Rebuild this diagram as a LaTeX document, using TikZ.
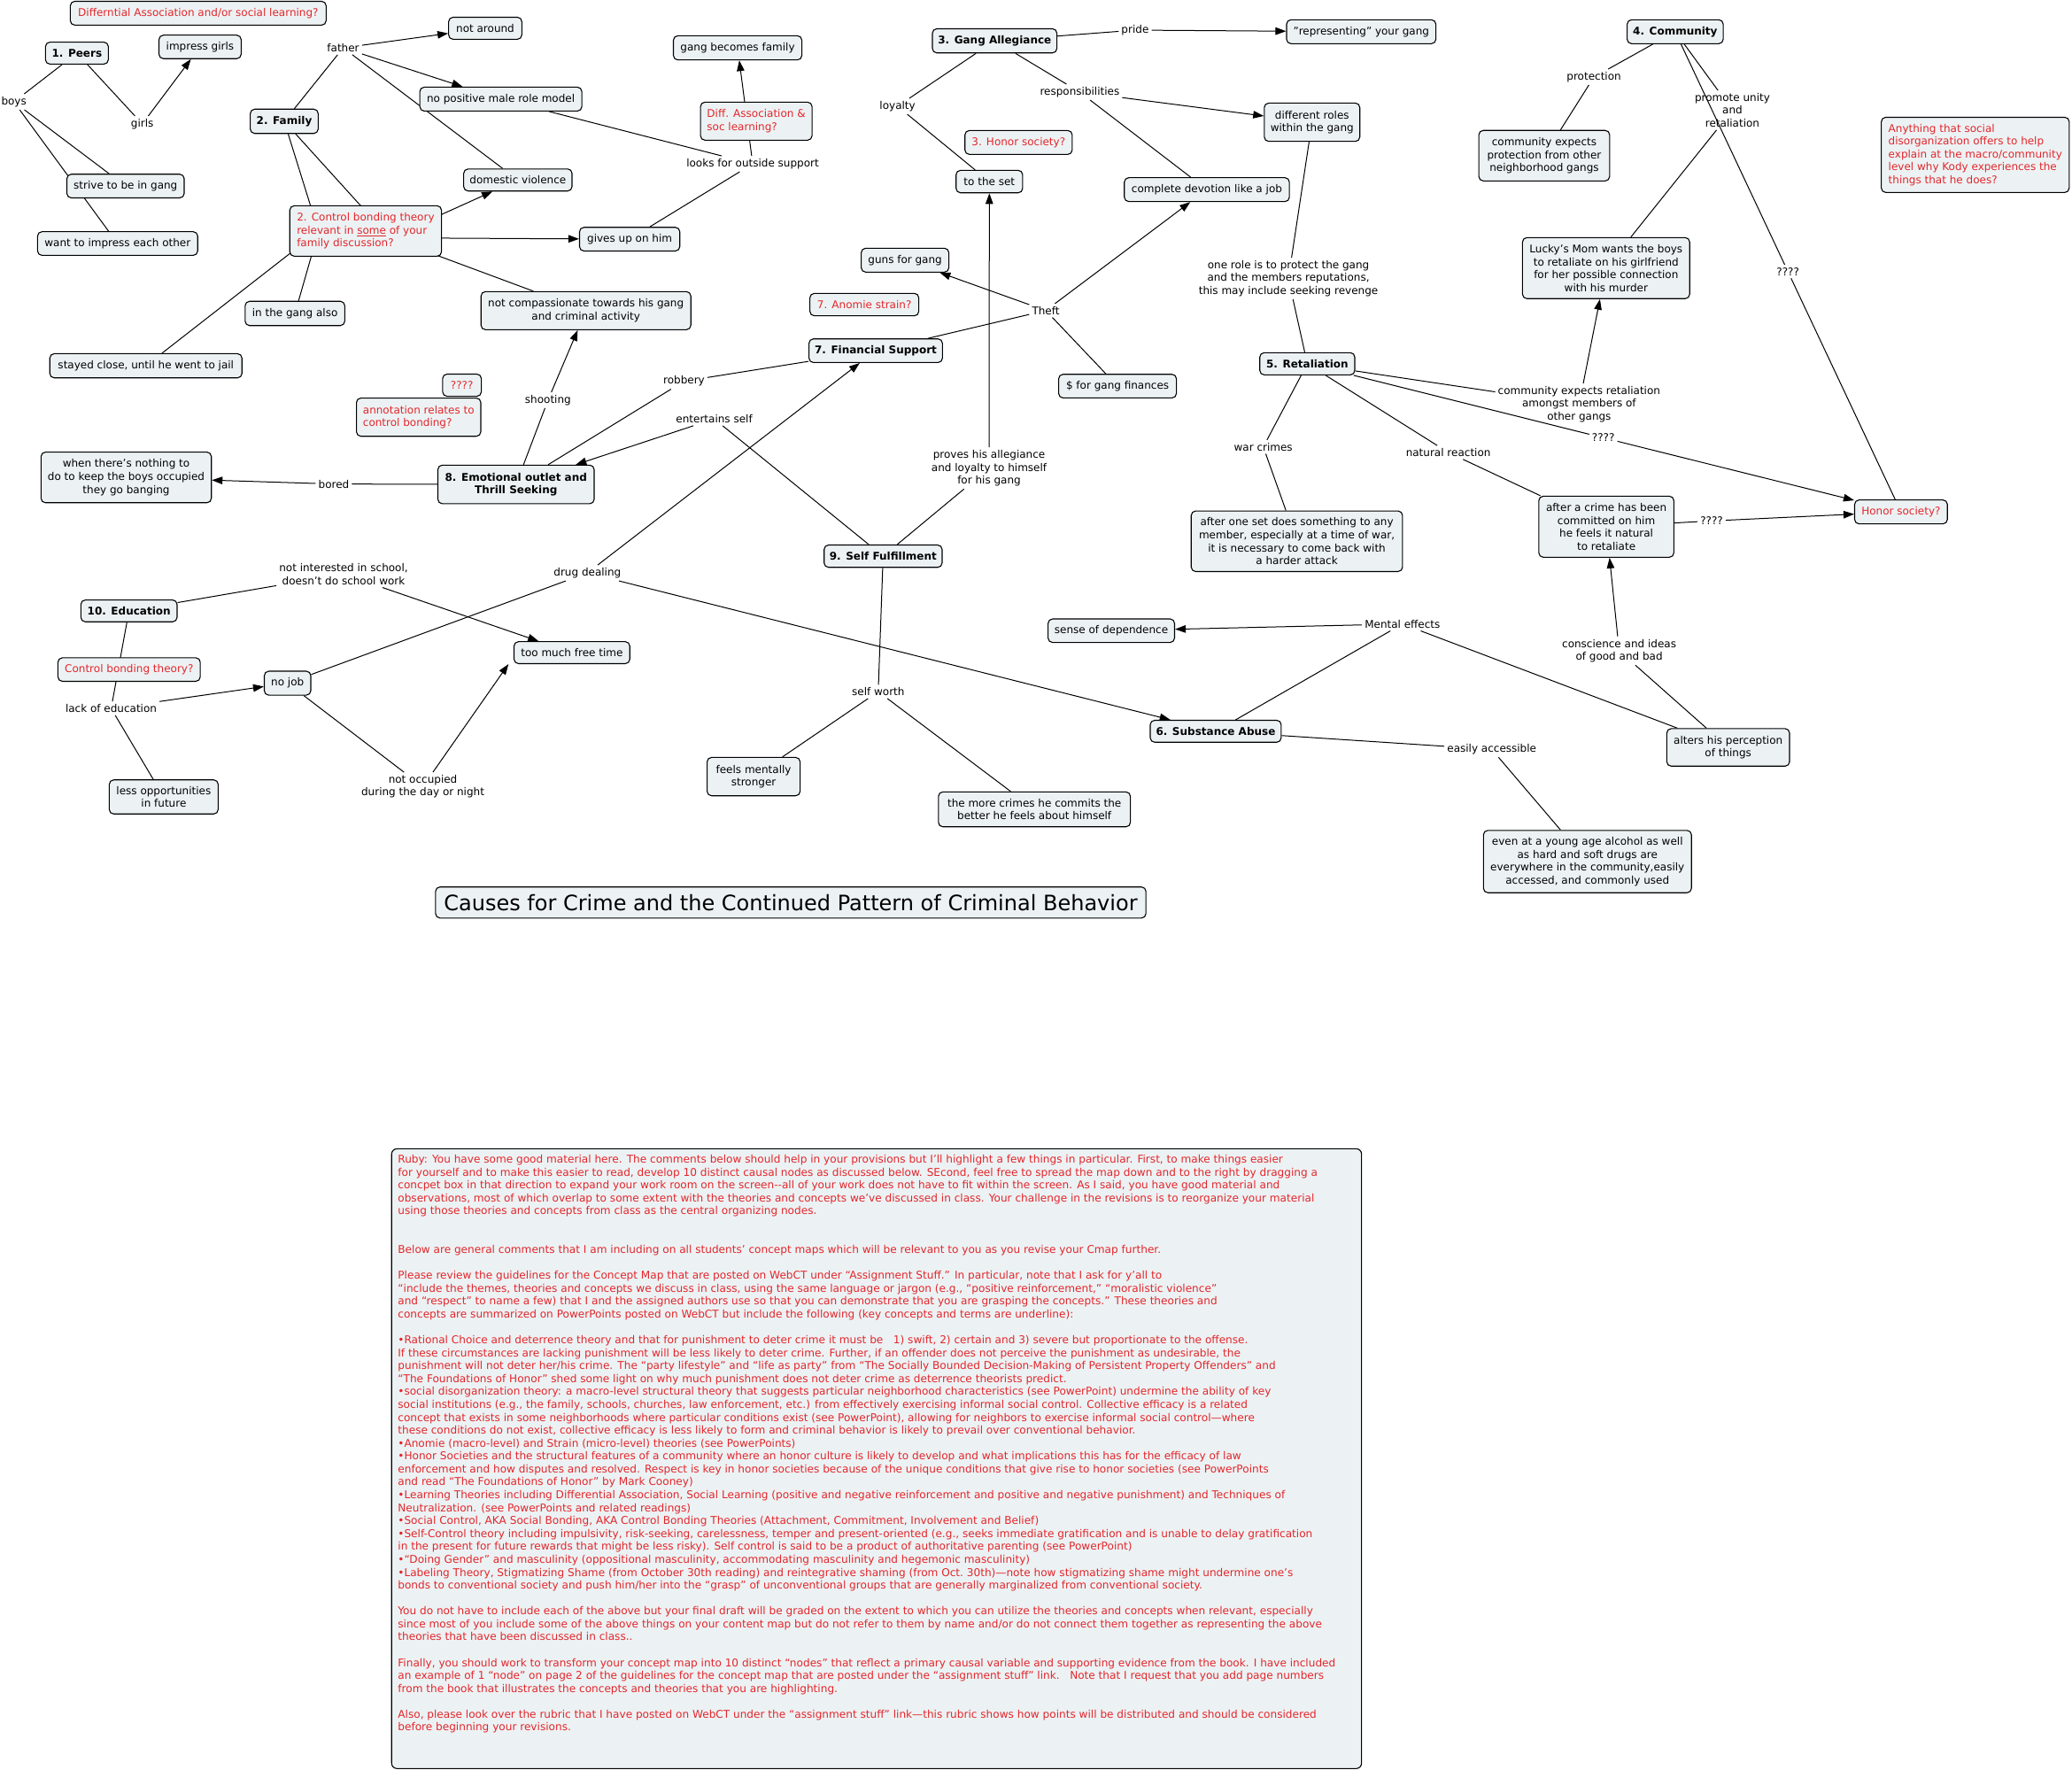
\documentclass[tikz,border=0pt]{standalone}
\usepackage{fontspec}
\setmainfont{DejaVu Sans}
\usetikzlibrary{arrows.meta}
\pgfdeclarelayer{bg}
\pgfsetlayers{bg,main}
\definecolor{boxfill}{HTML}{ECF2F4}
\definecolor{notered}{HTML}{E3262B}
\newcommand\fsn{\fontsize{12pt}{14.55pt}\selectfont}
\newcommand\fsc{\fontsize{12.1pt}{14.58pt}\selectfont}
\newcommand\fst{\fontsize{24pt}{28pt}\selectfont}
\tikzset{
  box/.style={draw=black, line width=1.1pt, fill=boxfill, rounded corners=5pt, align=center, font=\fsn, inner sep=1pt},
  sz/.style 2 args={minimum width=#1*1.4923pt, minimum height=#2*1.4923pt},
  note/.style={text=notered, align=left},
  hd/.style={font=\fsn\bfseries},
  lbl/.style={font=\fsn, align=center, inner sep=3pt},
  con/.style={line width=1pt, draw=black},
  arr/.style={con, -{Triangle[length=12pt,width=8.5pt]}},
}
\begin{document}
\begin{tikzpicture}[x=1.4923pt, y=-1.4923pt]
\useasboundingbox (0,0) rectangle (1568,1339);
\begin{pgfonlayer}{bg}
\fill[white] (0,0) rectangle (1568,1339);
\end{pgfonlayer}

% ---------- concept boxes ----------
\node[box, note, sz={193.6}{18}] (diffassoc) at (150,10) {Differntial Association and/or social learning?};
\node[box, hd, sz={47.6}{16.6}] (peers) at (58.2,40.2) {1. Peers};
\node[box, sz={62.2}{17.8}] (impgirls) at (151.4,35.5) {impress girls};
\node[box, sz={55.4}{16.7}] (notaround) at (367.2,21.4) {not around};
\node[box, sz={122.6}{18.1}] (nopos) at (379,75) {no positive male role model};
\node[box, hd, sz={51.4}{18.4}] (family) at (215.1,91.8) {2. Family};
\node[box, sz={88.8}{17.9}] (strive) at (95,140.8) {strive to be in gang};
\node[box, sz={121.2}{17.9}] (wantimp) at (89,184.3) {want to impress each other};
\node[box, sz={82}{16.7}] (domviol) at (391.9,136.2) {domestic violence};
\node[box, note, sz={114.8}{38.2}] (ctrl) at (276.7,174.8) {2. Control bonding theory\\relevant in \underline{some} of your\\family discussion?};
\node[box, sz={75.4}{18.4}] (gangalso) at (223.2,237.2) {in the gang also};
\node[box, sz={145.4}{18.3}] (stayed) at (110.4,276.8) {stayed close, until he went to jail};
\node[box, note, sz={29.3}{16.8}] (q1) at (349.6,291.5) {????};
\node[box, note, sz={94.1}{28.9}] (annot) at (316.8,315.7) {annotation relates to\\control bonding?};
\node[box, sz={128.9}{38.3}] (nothing) at (95.5,361.3) {when there's nothing to\\do to keep the boys occupied\\they go banging};
\node[box, hd, sz={118.3}{29.2}] (emot) at (390.5,366.6) {8. Emotional outlet and\\Thrill Seeking};
\node[box, sz={97.2}{18.3}] (gangfam) at (558.2,36.2) {gang becomes family};
\node[box, note, sz={84.4}{28.8}] (diffsoc) at (572.3,91.7) {Diff. Association \&\\soc learning?};
\node[box, hd, sz={94.2}{18.3}] (gangall) at (752.7,30.9) {3. Gang Allegiance};
\node[box, note, sz={81.2}{18.1}] (honor3) at (770.8,107.8) {3. Honor society?};
\node[box, sz={50.4}{17}] (toset) at (748.7,137.4) {to the set};
\node[box, sz={75.9}{17.9}] (givesup) at (476.5,181) {gives up on him};
\node[box, sz={66.3}{18.1}] (guns) at (684.9,196.9) {guns for gang};
\node[box, note, sz={82.4}{17}] (anomie) at (654.1,230.5) {7. Anomie strain?};
\node[box, hd, sz={101}{17.9}] (finsup) at (662.7,265.4) {7. Financial Support};
\node[box, sz={89.1}{17.9}] (dollar) at (845.7,292.2) {\$ for gang finances};
\node[box, sz={158.8}{28.8}] (notcomp) at (443.4,235.1) {not compassionate towards his gang\\and criminal activity};
\node[box, sz={113}{18.1}] (repr) at (1030.1,24) {"representing" your gang};
\node[box, hd, sz={72.7}{18.1}] (comm) at (1267.7,24) {4. Community};
\node[box, sz={72.3}{29}] (diffroles) at (992.9,92.5) {different roles\\within the gang};
\node[box, sz={124.9}{18.1}] (complete) at (913.3,143.5) {complete devotion like a job};
\node[box, sz={99}{38.2}] (commexp) at (1168.6,117.8) {community expects\\protection from other\\neighborhood gangs};
\node[box, note, sz={142.2}{56.9}] (anything) at (1494.8,117.2) {Anything that social\\disorganization offers to help\\explain at the macro/community\\level why Kody experiences the\\things that he does?};
\node[box, sz={126.5}{46.2}] (lucky) at (1215.4,202.9) {Lucky's Mom wants the boys\\to retaliate on his girlfriend\\for her possible connection\\with his murder};
\node[box, hd, sz={71.9}{16.8}] (retal) at (989.3,275.3) {5. Retaliation};
\node[box, note, sz={70.2}{18.1}] (honor) at (1438.6,387.4) {Honor society?};
\node[box, sz={159.9}{45.8}] (afterone) at (981.4,409.6) {after one set does something to any\\member, especially at a time of war,\\it is necessary to come back with\\a harder attack};
\node[box, sz={102.2}{46.2}] (aftercrime) at (1215.6,398.6) {after a crime has been\\committed on him\\he feels it natural\\to retaliate};
\node[box, hd, sz={99.1}{16.6}] (subst) at (920,553.4) {6. Substance Abuse};
\node[box, sz={92.9}{28.4}] (alters) at (1307.8,565.6) {alters his perception\\of things};
\node[box, sz={157.4}{47.2}] (young) at (1201.3,652) {even at a young age alcohol as well\\as hard and soft drugs are\\everywhere in the community,easily\\accessed, and commonly used};
\node[box, sz={95.7}{17.8}] (sensedep) at (841,477.3) {sense of dependence};
\node[box, hd, sz={89.3}{16.9}] (selff) at (668.3,420.9) {9. Self Fulfillment};
\node[box, sz={70.4}{29}] (feels) at (570.3,587.7) {feels mentally\\stronger};
\node[box, sz={145.3}{26.4}] (morecr) at (782.8,612.5) {the more crimes he commits the\\better he feels about himself};
\node[box, hd, sz={72.8}{16.5}] (edu) at (97.6,462.3) {10. Education};
\node[box, note, sz={107.7}{17.8}] (ctrl2) at (97.7,506.7) {Control bonding theory?};
\node[box, sz={35.2}{18.1}] (nojob) at (217.6,517) {no job};
\node[box, sz={87.6}{16.6}] (freetime) at (432.8,493.9) {too much free time};
\node[box, sz={82.4}{25.8}] (lessopp) at (123.9,603.1) {less opportunities\\in future};
\node[box, font=\fst, sz={537.6}{23.5}] (title) at (598.4,683) {Causes for Crime and the Continued Pattern of Criminal Behavior};

% ---------- linking phrases ----------
\node[lbl] (boys) at (10.5,77.1) {boys};
\node[lbl] (girls) at (107.7,93.8) {girls};
\node[lbl] (father) at (259.7,36.2) {father};
\node[lbl] (looks) at (569.6,124) {looks for outside support};
\node[lbl] (loyalty) at (679.2,80.4) {loyalty};
\node[lbl] (resp) at (817.1,69.7) {responsibilities};
\node[lbl] (pride) at (859,22.8) {pride};
\node[lbl] (protect) at (1206.2,58.3) {protection};
\node[lbl] (promote) at (1311,83.4) {promote unity\\and\\retaliation};
\node[lbl] (q2) at (1353,205.5) {????};
\node[lbl] (theft) at (791.4,235) {Theft};
\node[lbl] (robbery) at (517.6,288.5) {robbery};
\node[lbl] (entert) at (540.5,317) {entertains self};
\node[lbl] (shooting) at (414.7,302.8) {shooting};
\node[lbl] (bored) at (252.6,366.3) {bored};
\node[lbl] (onerole) at (975,210.8) {one role is to protect the gang\\and the members reputations,\\this may include seeking revenge};
\node[lbl] (commret) at (1195,306) {community expects retaliation\\amongst members of\\other gangs};
\node[lbl] (q3) at (1213.3,331.3) {????};
\node[lbl] (warcr) at (956,338.2) {war crimes};
\node[lbl] (natural) at (1096,342.4) {natural reaction};
\node[lbl] (q4) at (1295.3,394.2) {????};
\node[lbl] (proves) at (748.5,354.3) {proves his allegiance\\and loyalty to himself\\for his gang};
\node[lbl] (drug) at (444.5,433.6) {drug dealing};
\node[lbl] (notint) at (260,434.5) {not interested in school,\\doesn't do school work};
\node[lbl] (selfw) at (664.6,523.4) {self worth};
\node[lbl] (mental) at (1061.3,472.2) {Mental effects};
\node[lbl] (consc) at (1225.3,492.5) {conscience and ideas\\of good and bad};
\node[lbl] (easily) at (1128.9,567.1) {easily accessible};
\node[lbl] (lackedu) at (84.1,536.1) {lack of education};
\node[lbl] (notocc) at (320,595.3) {not occupied\\during the day or night};

% hidden joints under the Control bonding box
\coordinate (h1) at (241,175);
\coordinate (h2) at (295,180);

% ---------- comment box ----------
\node[box, sz={734}{469}, anchor=north west, rounded corners=6pt] (cbox) at (296,869) {};
\node[font=\fsc, text=notered, align=left, anchor=north west, inner sep=0pt] (ctext) at (301,873.8) {%
Ruby: You have some good material here.  The comments below should help in your provisions but I’ll highlight a few things in particular.  First, to make things easier\\
for yourself and to make this easier to read, develop 10 distinct causal nodes as discussed below.  SEcond, feel free to spread the map down and to the right by dragging a\\
concpet box in that direction to expand your work room on the screen-{}-all of your work does not have to fit within the screen.  As I said, you have good material and\\
observations, most of which overlap to some extent with the theories and concepts we’ve discussed in class.  Your challenge in the revisions is to reorganize your material\\
using those theories and concepts from class as the central organizing nodes.\\
\mbox{}\\
\mbox{}\\
Below are general comments that I am including on all students’ concept maps which will be relevant to you as you revise your Cmap further.\\
\mbox{}\\
Please review the guidelines for the Concept Map that are posted on WebCT under “Assignment Stuff.”  In particular, note that I ask for y’all to\\
“include the themes, theories and concepts we discuss in class, using the same language or jargon (e.g., “positive reinforcement,” “moralistic violence”\\
and “respect” to name a few) that I and the assigned authors use so that you can demonstrate that you are grasping the concepts.”  These theories and\\
concepts are summarized on PowerPoints posted on WebCT but include the following (key concepts and terms are underline):\\
\mbox{}\\
•Rational Choice and deterrence theory and that for punishment to deter crime it must be\ \ \ 1) swift, 2) certain and 3) severe but proportionate to the offense.\\
If these circumstances are lacking punishment will be less likely to deter crime.  Further, if an offender does not perceive the punishment as undesirable, the\\
punishment will not deter her/his crime.  The “party lifestyle” and “life as party” from “The Socially Bounded Decision-Making of Persistent Property Offenders” and\\
“The Foundations of Honor” shed some light on why much punishment does not deter crime as deterrence theorists predict.\\
•social disorganization theory: a macro-level structural theory that suggests particular neighborhood characteristics (see PowerPoint) undermine the ability of key\\
social institutions (e.g., the family, schools, churches, law enforcement, etc.) from effectively exercising informal social control.  Collective efficacy is a related\\
concept that exists in some neighborhoods where particular conditions exist (see PowerPoint), allowing for neighbors to exercise informal social control—where\\
these conditions do not exist, collective efficacy is less likely to form and criminal behavior is likely to prevail over conventional behavior.\\
•Anomie (macro-level) and Strain (micro-level) theories (see PowerPoints)\\
•Honor Societies and the structural features of a community where an honor culture is likely to develop and what implications this has for the efficacy of law\\
enforcement and how disputes and resolved.  Respect is key in honor societies because of the unique conditions that give rise to honor societies (see PowerPoints\\
and read “The Foundations of Honor” by Mark Cooney)\\
•Learning Theories including Differential Association, Social Learning (positive and negative reinforcement and positive and negative punishment) and Techniques of\\
Neutralization. (see PowerPoints and related readings)\\
•Social Control, AKA Social Bonding, AKA Control Bonding Theories (Attachment, Commitment, Involvement and Belief)\\
•Self-Control theory including impulsivity, risk-seeking, carelessness, temper and present-oriented (e.g., seeks immediate gratification and is unable to delay gratification\\
in the present for future rewards that might be less risky).  Self control is said to be a product of authoritative parenting (see PowerPoint)\\
•“Doing Gender” and masculinity (oppositional masculinity, accommodating masculinity and hegemonic masculinity)\\
•Labeling Theory, Stigmatizing Shame (from October 30th reading) and reintegrative shaming (from Oct.\ 30th)—note how stigmatizing shame might undermine one’s\\
bonds to conventional society and push him/her into the “grasp” of unconventional groups that are generally marginalized from conventional society.\\
\mbox{}\\
You do not have to include each of the above but your final draft will be graded on the extent to which you can utilize the theories and concepts when relevant, especially\\
since most of you include some of the above things on your content map but do not refer to them by name and/or do not connect them together as representing the above\\
theories that have been discussed in class..\\
\mbox{}\\
Finally, you should work to transform your concept map into 10 distinct “nodes” that reflect a primary causal variable and supporting evidence from the book.  I have included\\
an example of 1 “node” on page 2 of the guidelines for the concept map that are posted under the “assignment stuff” link.\ \ \ Note that I request that you add page numbers\\
from the book that illustrates the concepts and theories that you are highlighting.\\
\mbox{}\\
Also, please look over the rubric that I have posted on WebCT under the “assignment stuff” link—this rubric shows how points will be distributed and should be considered\\
before beginning your revisions.};

% ---------- connectors ----------
\begin{pgfonlayer}{bg}
\draw[con] (peers) -- (boys);
\draw[con] (boys) -- (strive);
\draw[con] (boys) -- (wantimp);
\draw[con] (peers) -- (girls);
\draw[arr] (girls) -- (impgirls);
\draw[con] (family) -- (father);
\draw[arr] (father) -- (notaround);
\draw[arr] (father) -- (nopos);
\draw[con] (father) -- (domviol);
\draw[con] (family) -- (h1);
\draw[con] (family) -- (h2);
\draw[con] (h1) -- (gangalso);
\draw[con] (h1) -- (stayed);
\draw[arr] (h2) -- (domviol);
\draw[arr] (h2) -- (givesup);
\draw[con] (h2) -- (notcomp);
\draw[con] (nopos) -- (looks);
\draw[con] (givesup) -- (looks);
\draw[arr] (looks) -- (gangfam);
\draw[con] (emot) -- (shooting);
\draw[arr] (shooting) -- (notcomp);
\draw[con] (emot) -- (bored);
\draw[arr] (bored) -- (nothing);
\draw[con] (emot) -- (robbery);
\draw[con] (robbery) -- (finsup);
\draw[con] (selff) -- (entert);
\draw[arr] (entert) -- (emot);
\draw[con] (selff) -- (proves);
\draw[arr] (proves) -- (toset);
\draw[con] (selff) -- (selfw);
\draw[con] (selfw) -- (feels);
\draw[con] (selfw) -- (morecr);
\draw[con] (finsup) -- (theft);
\draw[arr] (theft) -- (guns);
\draw[arr] (theft) -- (complete);
\draw[con] (theft) -- (dollar);
\draw[con] (nojob) -- (drug);
\draw[arr] (drug) -- (finsup);
\draw[arr] (drug) -- (subst);
\draw[con] (gangall) -- (pride);
\draw[arr] (pride) -- (repr);
\draw[con] (gangall) -- (loyalty);
\draw[con] (loyalty) -- (toset);
\draw[con] (gangall) -- (resp);
\draw[arr] (resp) -- (diffroles);
\draw[con] (resp) -- (complete);
\draw[con] (comm) -- (protect);
\draw[con] (protect) -- (commexp);
\draw[con] (comm) -- (promote);
\draw[con] (promote) -- (lucky);
\draw[con] (comm) -- (q2);
\draw[con] (q2) -- (honor);
\draw[con] (diffroles) -- (onerole);
\draw[con] (onerole) -- (retal);
\draw[con] (retal) -- (commret);
\draw[arr] (commret) -- (lucky);
\draw[con] (retal) -- (q3);
\draw[arr] (q3) -- (honor);
\draw[con] (retal) -- (warcr);
\draw[con] (warcr) -- (afterone);
\draw[con] (retal) -- (natural);
\draw[con] (natural) -- (aftercrime);
\draw[con] (aftercrime) -- (q4);
\draw[arr] (q4) -- (honor);
\draw[con] (alters) -- (consc);
\draw[arr] (consc) -- (aftercrime);
\draw[con] (subst) -- (mental);
\draw[arr] (mental) -- (sensedep);
\draw[con] (mental) -- (alters);
\draw[con] (subst) -- (easily);
\draw[con] (easily) -- (young);
\draw[con] (edu) -- (notint);
\draw[arr] (notint) -- (freetime);
\draw[con] (edu) -- (lackedu);
\draw[arr] (lackedu) -- (nojob);
\draw[con] (lackedu) -- (lessopp);
\draw[con] (nojob) -- (notocc);
\draw[arr] (notocc) -- ([xshift=-48*1.4923pt]freetime.south);
\end{pgfonlayer}
\end{tikzpicture}
\end{document}
